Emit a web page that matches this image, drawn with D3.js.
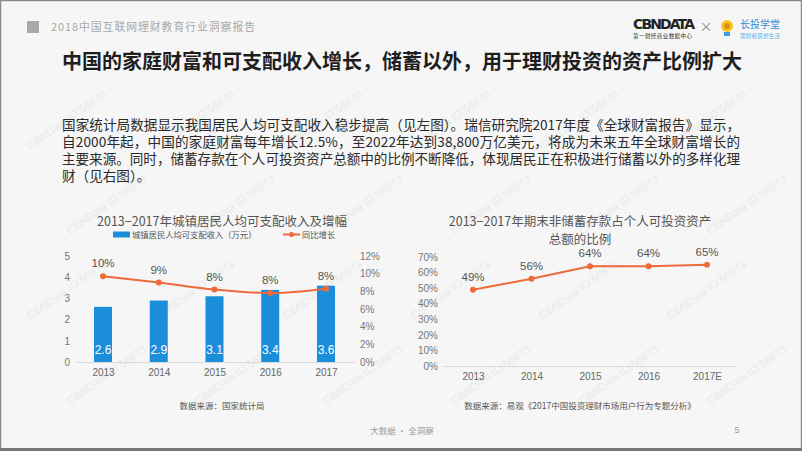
<!DOCTYPE html>
<html><head><meta charset="utf-8">
<script src="https://cdn.jsdelivr.net/npm/d3@7"></script>
<style>
html,body{margin:0;padding:0;background:#f6f6f6;}
svg{display:block;font-family:"Noto Sans CJK SC","Noto Sans",sans-serif;}
</style></head><body>
<svg id="c" width="802" height="451"></svg>
<script>
// ---- data ----
const years = ["2013","2014","2015","2016","2017"];
const income = [2.6, 2.9, 3.1, 3.4, 3.6];          // 万元
const growth = [9.7, 9.0, 8.2, 7.8, 8.3];          // %
const growthLabels = ["10%","9%","8%","8%","8%"];
const leftTicks = [0,1,2,3,4,5];
const rightTicks = [0,2,4,6,8,10,12];
const years2 = ["2013","2014","2015","2016","2017E"];
const share = [49, 56, 64, 64, 65];                // %
const shareTicks = [0,10,20,30,40,50,60,70];
const paragraph = [
 "国家统计局数据显示我国居民人均可支配收入稳步提高（见左图）。瑞信研究院2017年度《全球财富报告》显示，",
 "自2000年起，中国的家庭财富每年增长12.5%，至2022年达到38,800万亿美元，将成为未来五年全球财富增长的",
 "主要来源。同时，储蓄存款在个人可投资资产总额中的比例不断降低，体现居民正在积极进行储蓄以外的多样化理",
 "财（见右图）。"
];

const svg = d3.select("#c");
const BLUE = "#1a8ddb", ORANGE = "#ec6a3c", GRAY = "#666";

svg.append("rect").attr("width",802).attr("height",451).attr("fill","#f6f6f6");

// faint watermarks (kept inside the page)
const wm = svg.append("g").attr("fill","#e9e9e9").attr("font-size",11).attr("font-family","Liberation Sans, sans-serif");
for (let r=0;r<4;r++) for (let c=0;c<6;c++){
  const x = 30 + c*128 + (r%2)*40, y = 150 + r*85;
  wm.append("text").attr("transform",`translate(${x},${y}) rotate(-35)`).text("CBNData ID:56873");
}

svg.append("rect").attr("x",0.5).attr("y",0.5).attr("width",801).attr("height",450)
  .attr("fill","none").attr("stroke","#8a8a8a").attr("stroke-width",1.5);
svg.append("rect").attr("x",0).attr("y",448).attr("width",802).attr("height",3).attr("fill","#777");

// header
svg.append("rect").attr("x",27).attr("y",21).attr("width",12).attr("height",12).attr("fill","#a9a9a9");
svg.append("text").attr("x",51).attr("y",31).attr("font-size",10.8).attr("fill","#a8a8a8")
  .attr("textLength",204).text("2018中国互联网理财教育行业洞察报告");

// logos
svg.append("text").attr("x",633).attr("y",29).attr("font-size",14).attr("font-weight",700)
  .attr("font-family","DejaVu Sans, sans-serif").attr("fill","#222").attr("textLength",62).text("CBNDATA");
svg.append("text").attr("x",633).attr("y",38).attr("font-size",5.5).attr("fill","#333").attr("textLength",59).text("第一财经商业数据中心");
svg.append("text").attr("x",706).attr("y",31).attr("font-size",13).attr("text-anchor","middle").attr("fill","#888").text("×");
svg.append("circle").attr("cx",727).attr("cy",26).attr("r",6).attr("fill","#f5c518");
svg.append("circle").attr("cx",727).attr("cy",26).attr("r",3).attr("fill","#e08a1a");
svg.append("rect").attr("x",724).attr("y",32).attr("width",6).attr("height",4).attr("fill","#3aa0e0");
svg.append("text").attr("x",740).attr("y",28).attr("font-size",10).attr("fill","#2a8fd8").text("长投学堂");
svg.append("text").attr("x",740).attr("y",38).attr("font-size",5.5).attr("fill","#5ab0e8").attr("textLength",40).text("理财和思想生活");

// main title
svg.append("text").attr("x",402).attr("y",69).attr("text-anchor","middle").attr("font-size",20)
  .attr("font-weight",700).attr("fill","#1e1e1e").text("中国的家庭财富和可支配收入增长，储蓄以外，用于理财投资的资产比例扩大");

// paragraph
const pg = svg.append("g").attr("font-size",13.6).attr("fill","#2a2a2a");
paragraph.forEach((t,i)=>{
  const tx = pg.append("text").attr("x",62).attr("y",130 + i*17).text(t);
  if (i<3) tx.attr("textLength",678).attr("lengthAdjust","spacing");
});

// ===== left chart =====
const xL = d3.scalePoint().domain(years).range([103,326]);
const yL = d3.scaleLinear().domain([0,5]).range([362,256]);
const yR = d3.scaleLinear().domain([0,12]).range([362,256]);

svg.append("text").attr("x",222).attr("y",226).attr("text-anchor","middle").attr("font-size",12.5)
  .attr("fill","#555").text("2013−2017年城镇居民人均可支配收入及增幅");
// legend
svg.append("rect").attr("x",113).attr("y",231.5).attr("width",17).attr("height",6).attr("fill",BLUE);
svg.append("text").attr("x",132).attr("y",238).attr("font-size",8.3).attr("fill","#555").text("城镇居民人均可支配收入（万元）");
svg.append("line").attr("x1",283).attr("x2",300).attr("y1",234.5).attr("y2",234.5).attr("stroke",ORANGE).attr("stroke-width",2);
svg.append("circle").attr("cx",291.5).attr("cy",234.5).attr("r",2.5).attr("fill",ORANGE);
svg.append("text").attr("x",302).attr("y",238).attr("font-size",8.3).attr("fill","#555").text("同比增长");

// axes
const axL = svg.append("g").attr("transform","translate(72,0)")
  .call(d3.axisLeft(yL).tickValues(leftTicks).tickSize(0).tickPadding(0).tickFormat(d3.format("d")));
axL.select(".domain").remove();
axL.selectAll("text").attr("font-size",10).attr("fill","#777").attr("font-family","Liberation Sans, sans-serif").attr("x",-2);
const axR = svg.append("g").attr("transform","translate(360,0)")
  .call(d3.axisRight(yR).tickValues(rightTicks).tickSize(0).tickPadding(0).tickFormat(d=>d+"%"));
axR.select(".domain").remove();
axR.selectAll("text").attr("font-size",10).attr("fill","#777").attr("font-family","Liberation Sans, sans-serif");
svg.append("line").attr("x1",76).attr("x2",355).attr("y1",362.5).attr("y2",362.5).attr("stroke","#d9d9d9");
const axXL = svg.append("g").attr("transform","translate(0,362)")
  .call(d3.axisBottom(xL).tickSize(0).tickPadding(7));
axXL.select(".domain").remove();
axXL.selectAll("text").attr("font-size",10).attr("fill",GRAY).attr("font-family","Liberation Sans, sans-serif");

// bars
svg.append("g").selectAll("rect").data(years).join("rect")
  .attr("x",d=>xL(d)-9).attr("width",18)
  .attr("y",(d,i)=>yL(income[i])).attr("height",(d,i)=>yL(0)-yL(income[i])).attr("fill",BLUE);
svg.append("g").selectAll("text").data(years).join("text")
  .attr("x",d=>xL(d)).attr("y",354).attr("text-anchor","middle").attr("font-size",12)
  .attr("font-family","Liberation Sans, sans-serif").attr("fill","#fff").text((d,i)=>income[i].toFixed(1));
// line
const lineL = d3.line().x((d,i)=>xL(years[i])).y(d=>yR(d)).curve(d3.curveMonotoneX);
svg.append("path").datum(growth).attr("d",lineL).attr("fill","none").attr("stroke",ORANGE).attr("stroke-width",2);
svg.append("g").selectAll("circle").data(growth).join("circle")
  .attr("cx",(d,i)=>xL(years[i])).attr("cy",d=>yR(d)).attr("r",3).attr("fill",ORANGE);
svg.append("g").selectAll("text").data(growth).join("text")
  .attr("x",(d,i)=>xL(years[i])).attr("y",d=>yR(d)-9).attr("text-anchor","middle")
  .attr("font-size",11.5).attr("font-family","Liberation Sans, sans-serif").attr("fill","#555").text((d,i)=>growthLabels[i]);

svg.append("text").attr("x",222).attr("y",409).attr("text-anchor","middle").attr("font-size",8.5)
  .attr("fill","#555").text("数据来源：国家统计局");

// ===== right chart =====
const xR2 = d3.scalePoint().domain(years2).range([473,707]);
const yS = d3.scaleLinear().domain([0,70]).range([366,257]);

svg.append("text").attr("x",580).attr("y",226).attr("text-anchor","middle").attr("font-size",12.5)
  .attr("fill","#555").text("2013−2017年期末非储蓄存款占个人可投资资产");
svg.append("text").attr("x",580).attr("y",244).attr("text-anchor","middle").attr("font-size",12.5)
  .attr("fill","#555").text("总额的比例");

const axS = svg.append("g").attr("transform","translate(438,0)")
  .call(d3.axisLeft(yS).tickValues(shareTicks).tickSize(0).tickPadding(0).tickFormat(d=>d+"%"));
axS.select(".domain").remove();
axS.selectAll("text").attr("font-size",10).attr("fill","#777").attr("font-family","Liberation Sans, sans-serif");
svg.append("line").attr("x1",443).attr("x2",736).attr("y1",366.5).attr("y2",366.5).attr("stroke","#d9d9d9");
const axX2 = svg.append("g").attr("transform","translate(0,366)")
  .call(d3.axisBottom(xR2).tickSize(0).tickPadding(7));
axX2.select(".domain").remove();
axX2.selectAll("text").attr("font-size",10).attr("fill",GRAY).attr("font-family","Liberation Sans, sans-serif");

const lineS = d3.line().x((d,i)=>xR2(years2[i])).y(d=>yS(d));
svg.append("path").datum(share).attr("d",lineS).attr("fill","none").attr("stroke",ORANGE).attr("stroke-width",2);
svg.append("g").selectAll("circle").data(share).join("circle")
  .attr("cx",(d,i)=>xR2(years2[i])).attr("cy",d=>yS(d)).attr("r",3).attr("fill",ORANGE);
svg.append("g").selectAll("text").data(share).join("text")
  .attr("x",(d,i)=>xR2(years2[i])).attr("y",d=>yS(d)-9).attr("text-anchor","middle")
  .attr("font-size",11.5).attr("font-family","Liberation Sans, sans-serif").attr("fill","#555").text(d=>d+"%");

svg.append("text").attr("x",580).attr("y",409).attr("text-anchor","middle").attr("font-size",8.5)
  .attr("fill","#555").text("数据来源：易观《2017中国投资理财市场用户行为专题分析》");

// footer
svg.append("text").attr("x",402).attr("y",434).attr("text-anchor","middle").attr("font-size",8.5)
  .attr("fill","#9a9a9a").text("大数据 · 全洞察");
svg.append("text").attr("x",737).attr("y",433).attr("text-anchor","middle").attr("font-size",9)
  .attr("font-family","Liberation Sans, sans-serif").attr("fill","#9a9a9a").text("5");
</script>
</body></html>
